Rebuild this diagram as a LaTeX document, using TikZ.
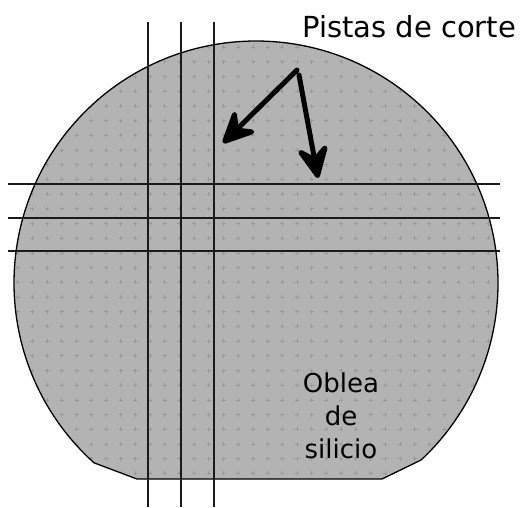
\documentclass[tikz,border=0pt]{standalone}
\usepackage{fontspec}
\setmainfont{DejaVu Sans}
\usetikzlibrary{arrows.meta,positioning}
\definecolor{waferfill}{HTML}{B3B3B3}
\definecolor{waferdot}{HTML}{999999}
\definecolor{trackline}{HTML}{1A1A1A}

\begin{document}
\begin{tikzpicture}[x=1pt,y=-1pt,
    track/.style={trackline,line width=1.4pt},
    pointer/.style={line width=5pt,line cap=round,-{Stealth[length=40pt,width=38pt,inset=15pt,round]}}]
  \useasboundingbox (0,0) rectangle (529,507);

  % wafer with flat
  \path[fill=waferfill]
    ([shift={(256,283)}]132:242) arc[start angle=132,end angle=407,radius=242]
    -- (382,479) -- (137,479) -- cycle;
  \begin{scope}
    \clip ([shift={(256,283)}]132:242) arc[start angle=132,end angle=407,radius=242]
      -- (382,479) -- (137,479) -- cycle;
    \foreach \x in {0,...,36} {
      \foreach \y in {0,...,34} {
        \draw[waferdot,line width=0.7pt] (3+14.7*\x-2,3+14.7*\y) -- ++(4,0)
          (3+14.7*\x,3+14.7*\y-2) -- ++(0,4);
      }
    }
  \end{scope}
  \draw[black,line width=1.3pt]
    ([shift={(256,283)}]132:242) arc[start angle=132,end angle=407,radius=242]
    -- (382,479) -- (137,479) -- cycle;

  % cutting tracks
  \foreach \x in {148,181,214} {
    \draw[track] (\x,22) -- (\x,507);
  }
  \foreach \y in {184,218,251} {
    \draw[track] (8,\y) -- (500,\y);
  }

  % labels
  \node[anchor=base west,inner sep=0pt,font=\fontsize{29}{34}\selectfont] (pistas) at (302,37) {Pistas de corte};
  \node[align=center,inner sep=0pt,font=\fontsize{26}{33}\selectfont] (oblea) at (341,416) {Oblea\\de\\silicio};

  \coordinate (basea) at (297,70);
  \coordinate (baseb) at (299,75);
  \coordinate (tipa) at (223,143);
  \coordinate (tipb) at (318,178);
  \draw[pointer] (basea) -- (tipa);
  \draw[pointer] (baseb) -- (tipb);
\end{tikzpicture}
\end{document}
